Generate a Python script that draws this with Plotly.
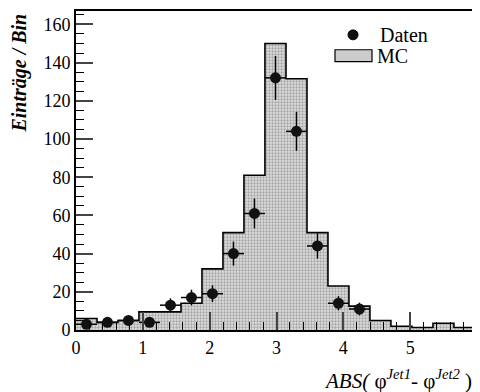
import plotly.graph_objects as go

# bin edges (width pi/10)
bin_edges = [0.0, 0.314, 0.628, 0.942, 1.257, 1.571, 1.885, 2.199, 2.513, 2.827,
             3.142, 3.456, 3.770, 4.084, 4.398, 4.712, 5.027, 5.341, 5.655, 5.969, 6.283]
mc_values = [6, 4, 5, 9.5, 9.5, 14, 32, 51, 81, 150, 131.5, 51, 23, 12.5, 5, 2, 1.3, 3.5, 1.3, 1]

data_x = [0.157, 0.471, 0.785, 1.100, 1.414, 1.728, 2.042, 2.356, 2.670, 2.985,
          3.299, 3.613, 3.927, 4.241]
data_y = [3, 4, 5, 4, 13, 17, 19, 40, 61, 132, 104, 44, 14, 11]
data_err = [1.7, 2.0, 2.2, 2.0, 3.6, 4.1, 4.4, 6.3, 7.8, 11.5, 10.2, 6.6, 3.7, 3.3]
data_xerr = [0.157] * len(data_x)

x_ticks = [0, 1, 2, 3, 4, 5, 6]
y_ticks = [0, 20, 40, 60, 80, 100, 120, 140, 160]

serif = "Liberation Serif"

# figure is drawn 8px in from the page corner (default body margin)
W, H = 472, 384
ML, MR, MT, MB = 68, 3, 1, 62
PW, PH = W - ML - MR, H - MT - MB
Y_MAX = 167


def px(fx):
    return (fx - ML) / PW


def py(fy):
    return (H - MB - fy) / PH


fig = go.Figure()

fig.add_trace(go.Scatter(
    x=bin_edges, y=mc_values + [mc_values[-1]],
    mode="lines", line=dict(shape="hv", color="black", width=1.6),
    fill="tozeroy", fillcolor="#d8d8d8",
    fillpattern=dict(shape=".", fgcolor="#6a6a6a", bgcolor="#dedede", size=3, solidity=0.45),
    name="MC", showlegend=False,
))

fig.add_trace(go.Scatter(
    x=data_x, y=data_y, mode="markers",
    marker=dict(symbol="circle", size=11, color="#111111"),
    error_y=dict(type="data", array=data_err, color="black", thickness=1.5, width=0),
    error_x=dict(type="data", array=data_xerr, color="black", thickness=1.5, width=0),
    name="Daten", showlegend=False,
))

shapes = [
    # legend: Daten marker
    dict(type="circle", xref="paper", yref="paper",
         x0=px(345 - 5), x1=px(345 + 5), y0=py(25 + 5), y1=py(25 - 5),
         fillcolor="#111111", line=dict(color="black", width=1)),
    # legend: MC box
    dict(type="rect", xref="paper", yref="paper",
         x0=px(327), x1=px(364), y0=py(52), y1=py(40),
         fillcolor="#cccccc", line=dict(color="black", width=1.2)),
]

fig.update_layout(
    width=W, height=H,
    margin=dict(l=ML, r=MR, t=MT, b=MB),
    plot_bgcolor="white", paper_bgcolor="white",
    font=dict(family=serif, size=18, color="black"),
    showlegend=False,
    shapes=shapes,
    xaxis=dict(range=[0, 6], tickvals=x_ticks[:-1], ticks="inside", ticklen=18, tickwidth=1.5,
               showline=True, linewidth=2, linecolor="black", mirror=True,
               showgrid=False, zeroline=False,
               minor=dict(dtick=0.2, ticks="inside", ticklen=8, tickwidth=1.2, tickcolor="black", showgrid=False),
               tickfont=dict(family=serif, size=18)),
    yaxis=dict(range=[0, Y_MAX], tickvals=y_ticks, ticks="inside", ticklen=17, tickwidth=1.5,
               showline=True, linewidth=2, linecolor="black", mirror=True,
               showgrid=False, zeroline=False,
               minor=dict(dtick=5, ticks="inside", ticklen=8, tickwidth=1.2, tickcolor="black", showgrid=False),
               tickfont=dict(family=serif, size=18)),
    annotations=[
        dict(text=str(x_ticks[-1]), xref="paper", yref="paper", x=1.0, y=py(332),
             xanchor="center", yanchor="middle", showarrow=False, borderpad=0,
             xshift=-1, font=dict(family=serif, size=18)),
        dict(text="Daten", xref="paper", yref="paper", x=px(370), y=py(25),
             xanchor="left", yanchor="middle", showarrow=False,
             font=dict(family=serif, size=20)),
        dict(text="MC", xref="paper", yref="paper", x=px(367), y=py(46),
             xanchor="left", yanchor="middle", showarrow=False,
             font=dict(family=serif, size=20)),
        dict(text="<i>ABS(</i> φ<sup><i>Jet1</i></sup>- φ<sup><i>Jet2</i></sup> )", xref="paper", yref="paper",
             x=px(466), y=py(372), xanchor="right", yanchor="middle", showarrow=False,
             font=dict(family=serif, size=21)),
        dict(text="<b><i>Einträge / Bin</i></b>", xref="paper", yref="paper",
             x=px(12), y=py(64), xanchor="center", yanchor="middle", textangle=-90,
             showarrow=False, font=dict(family=serif, size=20)),
    ],
)

fig.write_html("out.html")
